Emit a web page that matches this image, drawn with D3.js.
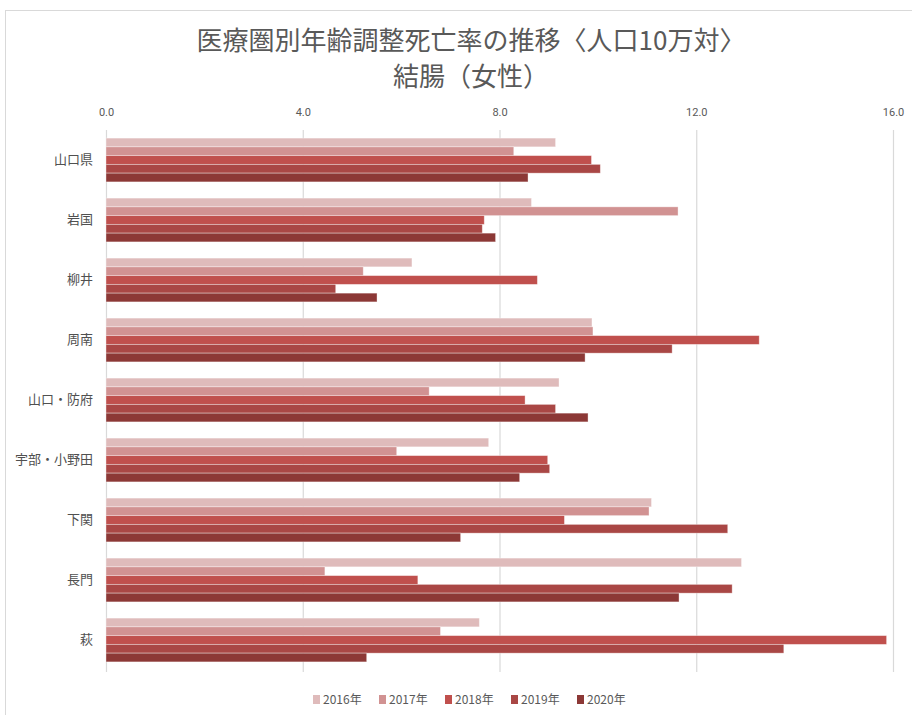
<!DOCTYPE html>
<html>
<head>
<meta charset="utf-8">
<script src="https://cdn.jsdelivr.net/npm/d3@7"></script>
<style>
  html, body { margin: 0; padding: 0; background: #fff; }
  svg { display: block; font-family: "Noto Sans CJK JP", "Noto Sans", sans-serif; }
</style>
</head>
<body>
<svg id="chart" width="912" height="715"></svg>
<script>
const categories = ["山口県", "岩国", "柳井", "周南", "山口・防府", "宇部・小野田", "下関", "長門", "萩"];
const seriesNames = ["2016年", "2017年", "2018年", "2019年", "2020年"];
const s2016 = [9.14, 8.65, 6.22, 9.88, 9.21, 7.78, 11.09, 12.92, 7.59];
const s2017 = [8.29, 11.63, 5.23, 9.90, 6.57, 5.91, 11.04, 4.45, 6.80];
const s2018 = [9.87, 7.69, 8.77, 13.28, 8.52, 8.98, 9.32, 6.34, 15.87];
const s2019 = [10.05, 7.65, 4.67, 11.51, 9.14, 9.02, 12.64, 12.73, 13.78];
const s2020 = [8.58, 7.92, 5.51, 9.74, 9.80, 8.41, 7.21, 11.65, 5.30];
const tickValues = [0, 4, 8, 12, 16];
const colors = ["#DFBBBB", "#D19292", "#C0504D", "#A94745", "#8C3836"];
const titleLines = ["医療圏別年齢調整死亡率の推移〈人口10万対〉", "結腸（女性）"];

const seriesValues = [s2016, s2017, s2018, s2019, s2020];

const svg = d3.select("#chart");
const textColor = "#595959";

// chart frame
svg.append("rect")
  .attr("x", 5.5).attr("y", 10.5)
  .attr("width", 912).attr("height", 720)
  .attr("fill", "none").attr("stroke", "#D9D9D9").attr("stroke-width", 1);

// title
svg.append("g").selectAll("text").data(titleLines).join("text")
  .attr("x", 471).attr("y", (d, i) => 50 + i * 36)
  .attr("text-anchor", "middle")
  .attr("font-size", 26)
  .attr("fill", textColor)
  .text(d => d);

const x = d3.scaleLinear().domain([0, 16]).range([106, 893]);
const y0 = d3.scaleBand().domain(categories).range([130, 670])
  .paddingInner(0.27).paddingOuter(0.135);
const y1 = d3.scaleBand().domain(seriesNames).range([0, y0.bandwidth()]).padding(0);

// gridlines
svg.append("g").selectAll("line").data(tickValues).join("line")
  .attr("x1", d => x(d) + 0.5).attr("x2", d => x(d) + 0.5)
  .attr("y1", 130).attr("y2", 672)
  .attr("stroke", "#D9D9D9").attr("stroke-width", 1.2);

// top axis labels
const xAxis = d3.axisTop(x).tickValues(tickValues).tickFormat(d3.format(".1f")).tickSize(0).tickPadding(0);
const gx = svg.append("g").attr("transform", "translate(0,116)").call(xAxis);
gx.select(".domain").remove();
gx.selectAll("text").attr("font-size", 11).attr("fill", textColor)
  .attr("font-family", "'Liberation Sans Narrow', 'Roboto', sans-serif");

// category labels
const yAxis = d3.axisLeft(y0).tickSize(0).tickPadding(0);
const gy = svg.append("g").attr("transform", "translate(93,0)").call(yAxis);
gy.select(".domain").remove();
gy.selectAll("text").attr("font-size", 13).attr("fill", "#505050")
  .attr("font-family", "'Noto Sans CJK JP', sans-serif");

// bars
const rows = categories.map((c, i) => ({
  cat: c,
  vals: seriesNames.map((s, j) => ({ s, j, v: seriesValues[j][i] }))
}));
const groups = svg.append("g").selectAll("g").data(rows).join("g")
  .attr("transform", d => `translate(0,${y0(d.cat)})`);
groups.selectAll("rect").data(d => d.vals).join("rect")
  .attr("x", x(0))
  .attr("y", d => y1(d.s))
  .attr("width", d => x(d.v) - x(0))
  .attr("height", y1.bandwidth())
  .attr("fill", d => colors[d.j])
  .attr("stroke", "#ffffff").attr("stroke-opacity", 0.45).attr("stroke-width", 0.8);

// legend
const legend = svg.append("g").attr("transform", "translate(313,700)");
const li = legend.selectAll("g").data(seriesNames).join("g")
  .attr("transform", (d, i) => `translate(${i * 66},0)`);
li.append("rect").attr("x", 0).attr("y", -5).attr("width", 7).attr("height", 9)
  .attr("fill", (d, i) => colors[i]);
li.append("text").attr("x", 10).attr("y", 4).attr("font-size", 12)
  .attr("fill", textColor).text(d => d);
</script>
</body>
</html>
